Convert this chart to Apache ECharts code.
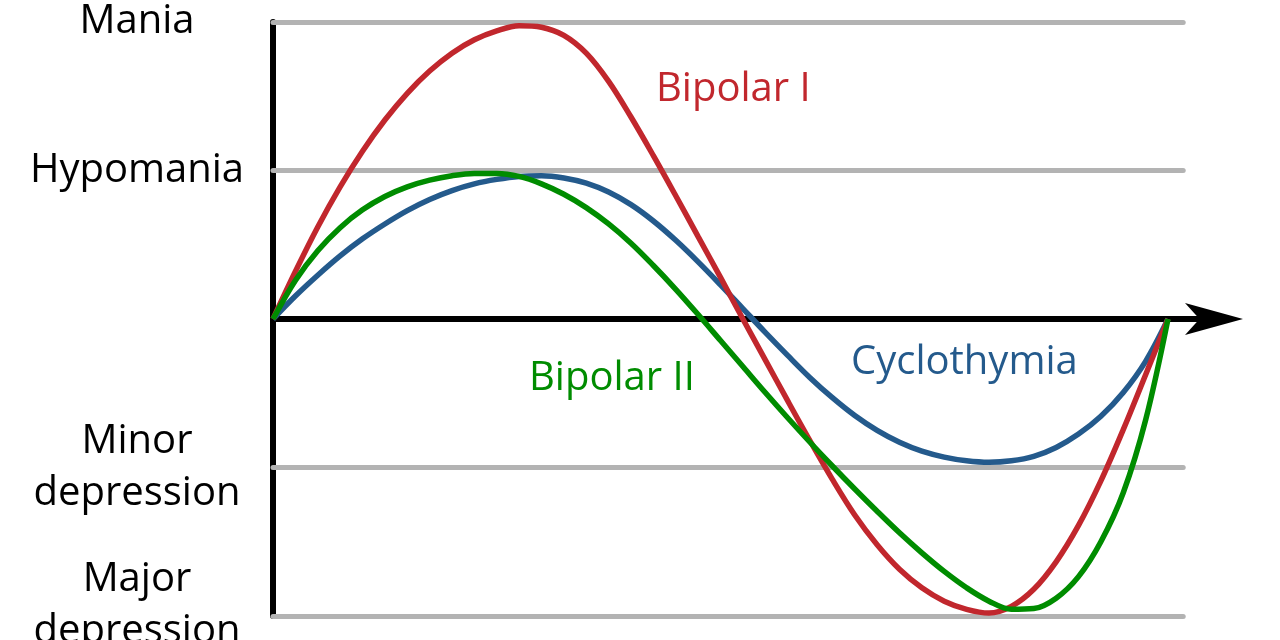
<!DOCTYPE html>
<html>
<head>
<meta charset="utf-8">
<title>Bipolar spectrum</title>
<script src="https://cdn.jsdelivr.net/npm/echarts@6/dist/echarts.min.js"></script>
<style>
  html, body { margin: 0; padding: 0; background: #fff; }
  #chart { width: 1280px; height: 640px; }
</style>
</head>
<body>
<div id="chart"></div>
<script>
// mood levels on the y axis
const levelValues = [2, 1, 0, -1, -2];
const levelNames = ['Mania', 'Hypomania', '', 'Minor\ndepression', 'Major\ndepression'];
const grayLevels = [2, 1, -1, -2];
const grayEnd = 101.7;

// time steps (same for all three curves)
const time = [0, 2.5, 5, 7.5, 10, 12.5, 15, 17.5, 20, 22.5, 25, 27.5, 30, 32.5, 35, 37.5, 40,
  42.5, 45, 47.5, 50, 52.5, 55, 57.5, 60, 62.5, 65, 67.5, 70, 72.5, 75, 77.5, 80,
  82.5, 85, 87.5, 90, 92.5, 95, 97.5, 100];

// mood
const bipolarI = [0, 0.32, 0.62, 0.89, 1.13, 1.34, 1.52, 1.67, 1.79, 1.88, 1.94, 1.975, 1.965,
  1.91, 1.79, 1.60, 1.36, 1.10, 0.83, 0.555, 0.28, 0, -0.275, -0.55, -0.82,
  -1.08, -1.32, -1.52, -1.685, -1.81, -1.90, -1.955, -1.98, -1.935, -1.82, -1.635,
  -1.39, -1.09, -0.745, -0.375, 0];
const bipolarII = [0, 0.26, 0.46, 0.615, 0.735, 0.825, 0.89, 0.935, 0.965, 0.98, 0.98, 0.96, 0.91,
  0.84, 0.75, 0.64, 0.51, 0.36, 0.20, 0.03, -0.145, -0.32, -0.495, -0.665, -0.83,
  -0.99, -1.145, -1.295, -1.44, -1.575, -1.70, -1.81, -1.90, -1.955, -1.95, -1.88,
  -1.735, -1.50, -1.17, -0.68, 0];
const cyclothymia = [0, 0.155, 0.295, 0.425, 0.54, 0.64, 0.73, 0.805, 0.865, 0.91, 0.94, 0.96, 0.965,
  0.95, 0.915, 0.855, 0.77, 0.66, 0.53, 0.385, 0.23, 0.07, -0.09, -0.245, -0.395,
  -0.53, -0.65, -0.75, -0.83, -0.89, -0.93, -0.955, -0.965, -0.955, -0.925, -0.865,
  -0.775, -0.655, -0.495, -0.285, 0];

const FONT = '"Open Sans", "Noto Sans", sans-serif';
const RED = '#c1272d', GREEN = '#008c00', BLUE = '#245a8c';

let myChart = echarts.init(document.getElementById('chart'));

function curve(name, values, color, z) {
  return {
    name: name,
    type: 'line',
    data: time.map((t, i) => [t, values[i]]),
    smooth: 0.35,
    showSymbol: false,
    z: z,
    lineStyle: { color: color, width: 5.5 }
  };
}

myChart.setOption({
  animation: false,
  grid: { left: 273, top: 22, width: 941, height: 594, outerBoundsMode: 'none', containLabel: false },
  xAxis: {
    type: 'value',
    min: 0,
    max: 105.14,
    z: 3,
    axisLine: {
      onZero: true,
      symbol: ['none', 'arrow'],
      symbolSize: [24, 58],
      symbolOffset: [0, 29],
      lineStyle: { color: '#000', width: 6 }
    },
    axisTick: { show: false },
    axisLabel: { show: false },
    splitLine: { show: false }
  },
  yAxis: {
    type: 'value',
    min: -2,
    max: 2,
    interval: 1,
    z: 3,
    axisLine: { show: true, lineStyle: { color: '#000', width: 6, cap: 'round' } },
    axisTick: { show: false },
    splitLine: { show: false },
    axisLabel: {
      margin: 136,
      align: 'center',
      verticalAlign: 'middle',
      color: '#000',
      fontFamily: FONT,
      fontSize: 40,
      lineHeight: 52,
      formatter: function (v) {
        const i = levelValues.indexOf(v);
        if (i < 0) return '';
        if (v === -2) {
          // sits a little above its line in the picture
          return levelNames[i].split('\n').map(s => '{a|' + s + '}').join('\n') + '\n{s| }';
        }
        return levelNames[i];
      },
      rich: {
        a: { fontFamily: FONT, fontSize: 40, lineHeight: 52, color: '#000' },
        s: { fontSize: 10, lineHeight: 20 }
      }
    }
  },
  series: [
    {
      name: 'levels',
      type: 'line',
      data: [],
      z: 1,
      markLine: {
        silent: true,
        symbol: 'none',
        label: { show: false },
        lineStyle: { color: '#b3b3b3', width: 5, type: 'solid', cap: 'round' },
        data: grayLevels.map(v => [{ coord: [0, v] }, { coord: [grayEnd, v] }])
      }
    },
    curve('Cyclothymia', cyclothymia, BLUE, 4),
    curve('Bipolar I', bipolarI, RED, 5),
    curve('Bipolar II', bipolarII, GREEN, 6)
  ],
  graphic: [
    { type: 'text', x: 656, y: 90, z: 10, style: { text: 'Bipolar I', fill: RED, font: '40px ' + FONT, verticalAlign: 'middle' } },
    { type: 'text', x: 529, y: 379, z: 10, style: { text: 'Bipolar II', fill: GREEN, font: '40px ' + FONT, verticalAlign: 'middle' } },
    { type: 'text', x: 851, y: 363, z: 10, style: { text: 'Cyclothymia', fill: BLUE, font: '40px ' + FONT, verticalAlign: 'middle' } }
  ]
});
</script>
</body>
</html>
